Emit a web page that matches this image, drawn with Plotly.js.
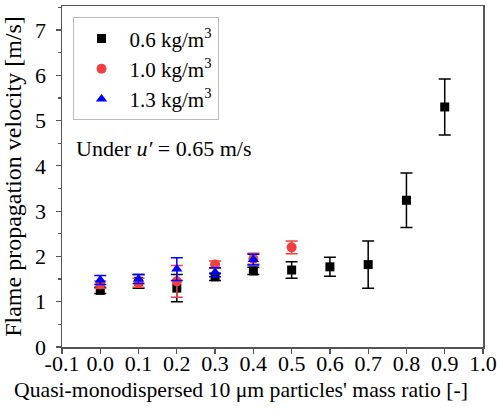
<!DOCTYPE html>
<html>
<head>
<meta charset="utf-8">
<script src="https://cdn.plot.ly/plotly-3.0.1.min.js"></script>
<style>html,body{margin:0;padding:0;background:#fff;}#chart{width:497px;height:410px;}</style>
</head>
<body>
<div id="chart"></div>
<script>
// Mass ratio of quasi-monodispersed 10 um particles
const ratio06 = [0.0, 0.1, 0.2, 0.3, 0.4, 0.5, 0.6, 0.7, 0.8, 0.9];
const vel06   = [1.25, 1.45, 1.30, 1.55, 1.68, 1.70, 1.77, 1.82, 3.24, 5.30];
const err06   = [0.07, 0.15, 0.30, 0.08, 0.08, 0.18, 0.21, 0.52, 0.60, 0.62];

const ratio10 = [0.0, 0.1, 0.2, 0.3, 0.4, 0.5];
const vel10   = [1.38, 1.42, 1.45, 1.82, 1.95, 2.20];
const err10   = [0.08, 0.10, 0.35, 0.08, 0.12, 0.14];

const ratio13 = [0.0, 0.1, 0.2, 0.3, 0.4];
const vel13   = [1.48, 1.50, 1.72, 1.65, 1.93];
const err13   = [0.10, 0.10, 0.25, 0.10, 0.12];

const names = ['0.6 kg/m<sup>3</sup>', '1.0 kg/m<sup>3</sup>', '1.3 kg/m<sup>3</sup>'];
const xTicks = [-0.1, 0.0, 0.1, 0.2, 0.3, 0.4, 0.5, 0.6, 0.7, 0.8, 0.9, 1.0];
const yTicks = [0, 1, 2, 3, 4, 5, 6, 7];
const xTitle = "Quasi-monodispersed 10 μm particles' mass ratio [-]";
const yTitle = 'Flame propagation velocity [m/s]';

const FONT = 'Times New Roman';

function trace(x, y, e, name, color, symbol, size) {
  return {
    x: x, y: y, name: name, type: 'scatter', mode: 'markers',
    marker: {color: color, symbol: symbol, size: size, line: {width: 0}},
    error_y: {type: 'data', array: e, visible: true, color: color, thickness: 1.5, width: 6}
  };
}

const data = [
  trace(ratio06, vel06, err06, names[0], '#000000', 'square', 9),
  trace(ratio10, vel10, err10, names[1], '#f04040', 'circle', 10),
  trace(ratio13, vel13, err13, names[2], '#0000ff', 'triangle-up', 10)
];

const axisCommon = {
  showline: true, mirror: true, linecolor: '#555', linewidth: 1.5,
  ticks: 'outside', ticklen: 5, tickwidth: 1.2, tickcolor: '#555',
  showgrid: false, zeroline: false,
  tickfont: {family: FONT, size: 22, color: '#000'}
};

const layout = {
  width: 497, height: 410,
  margin: {l: 61.5, r: 14.3, t: 6, b: 63},
  paper_bgcolor: '#fff', plot_bgcolor: '#fff',
  font: {family: FONT, size: 22, color: '#000'},
  showlegend: true,
  legend: {
    x: 0.025, y: 0.967, xanchor: 'left', yanchor: 'top',
    bordercolor: '#bbb', borderwidth: 1, bgcolor: '#fff',
    itemwidth: 46,
    font: {family: FONT, size: 21, color: '#000'}
  },
  xaxis: Object.assign({}, axisCommon, {
    range: [-0.1, 1.0], tickvals: xTicks, ticktext: xTicks.map(v => v.toFixed(1)),
    ticklabelstandoff: -9
  }),
  yaxis: Object.assign({}, axisCommon, {
    range: [0, 7.53], tickvals: yTicks,
    ticklabelstandoff: 5,
    minor: {dtick: 0.5, ticks: 'outside', ticklen: 3, tickcolor: '#555'},
    title: {text: yTitle, font: {family: FONT, size: 24, color: '#000'}, standoff: 6}
  }),
  annotations: [{
    xref: 'paper', yref: 'paper', x: 0.028, y: 0.583, xanchor: 'left', yanchor: 'middle',
    showarrow: false, text: 'Under <i>u′</i> = 0.65 m/s',
    font: {family: FONT, size: 22, color: '#000'}
  }, {
    xref: 'paper', yref: 'paper', x: 0.424, y: -0.126, xanchor: 'center', yanchor: 'middle',
    showarrow: false, text: xTitle,
    font: {family: FONT, size: 21.7, color: '#000'}
  }]
};

Plotly.newPlot('chart', data, layout, {displayModeBar: false, staticPlot: true});
</script>
</body>
</html>
